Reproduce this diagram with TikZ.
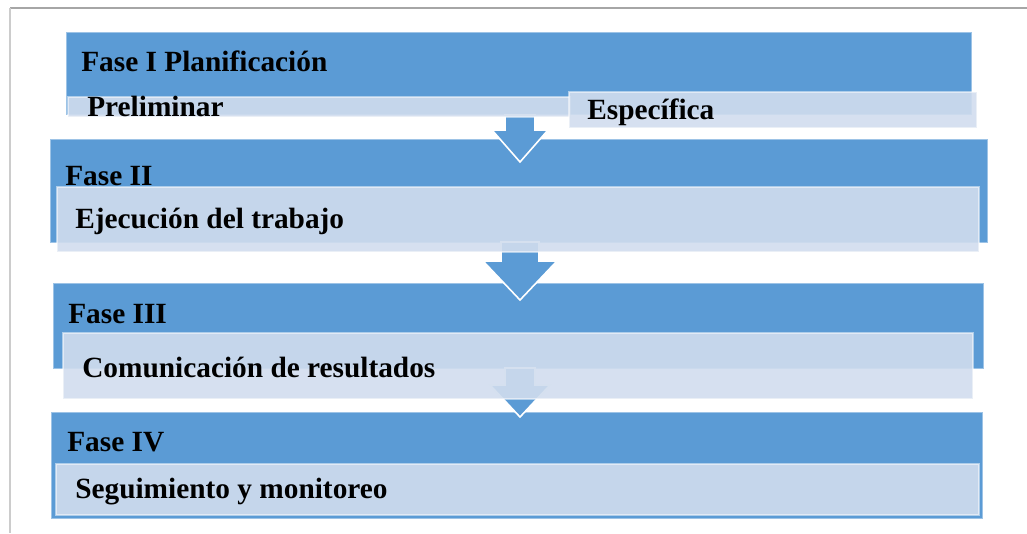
\documentclass[tikz,border=0pt]{standalone}
\usepackage{fontspec}
\setmainfont{Liberation Serif}
\usetikzlibrary{positioning}
\usetikzlibrary{fit}

\definecolor{faseblue}{RGB}{91,155,213}
\definecolor{faseedge}{RGB}{157,195,230}
\definecolor{subfill}{RGB}{209,221,238}

\begin{document}
\begin{tikzpicture}[x=0.75pt,y=-0.75pt]
\tikzstyle{fasebox} = [rectangle, fill=faseblue, draw=faseedge, line width=0.6pt, inner sep=0pt]
\tikzstyle{subbox} = [rectangle, fill=subfill, fill opacity=0.9, draw=white, draw opacity=0.5, line width=0.8pt, inner sep=0pt]
\tikzstyle{arrowshape} = [fill=faseblue, draw=white, line width=1.2pt, line join=miter]
\tikzstyle{txt} = [anchor=base west, inner sep=0pt, font=\fontsize{22}{26}\selectfont\bfseries]
\useasboundingbox (0,0) rectangle (1027,533);
% frame
\draw[gray!70, line width=0.8pt] (10,8) -- (1027,8);
\draw[gray!40, line width=0.8pt] (10,8) -- (10,533);
% phases
\node[fasebox, fit={(66,32) (971,114)}] (fase1) {};
\node[fasebox, fit={(50,139) (987,242)}] (fase2) {};
\node[fasebox, fit={(53,283) (983,368)}] (fase3) {};
\node[fasebox, fit={(51,412) (982,518)}] (fase4) {};
% arrows between phases
\foreach \cx/\top/\neck/\tip/\sw/\hw in {520/115/130/162/15/28, 520/242/261/300/19/37, 520/368/385/417/15/30}
  \draw[arrowshape] (\cx-\sw,\top) -- (\cx+\sw,\top) -- (\cx+\sw,\neck) -- (\cx+\hw,\neck)
    -- (\cx,\tip) -- (\cx-\hw,\neck) -- (\cx-\sw,\neck) -- cycle;
% sub boxes
\node[subbox, fit={(68,97) (570,117)}] (prelim) {};
\node[subbox, fit={(569,92) (977,128)}] (especif) {};
\node[subbox, fit={(57,187) (979,252)}] (ejec) {};
\node[subbox, fit={(63,333) (973,399)}] (comun) {};
\node[subbox, fit={(56,464) (979,515)}] (segui) {};
% texts
\node[txt] (t1) at (81,71) {Fase I Planificación};
\node[txt] (t1a) at (87,116) {Preliminar};
\node[txt] (t1b) at (587,119) {Específica};
\node[txt] (t2) at (65,185) {Fase II};
\node[txt] (t2a) at (75,228) {Ejecución del trabajo};
\node[txt] (t3) at (68,323) {Fase III};
\node[txt] (t3a) at (82,377) {Comunicación de resultados};
\node[txt] (t4) at (67,451) {Fase IV};
\node[txt] (t4a) at (75,498) {Seguimiento y monitoreo};
\end{tikzpicture}
\end{document}
